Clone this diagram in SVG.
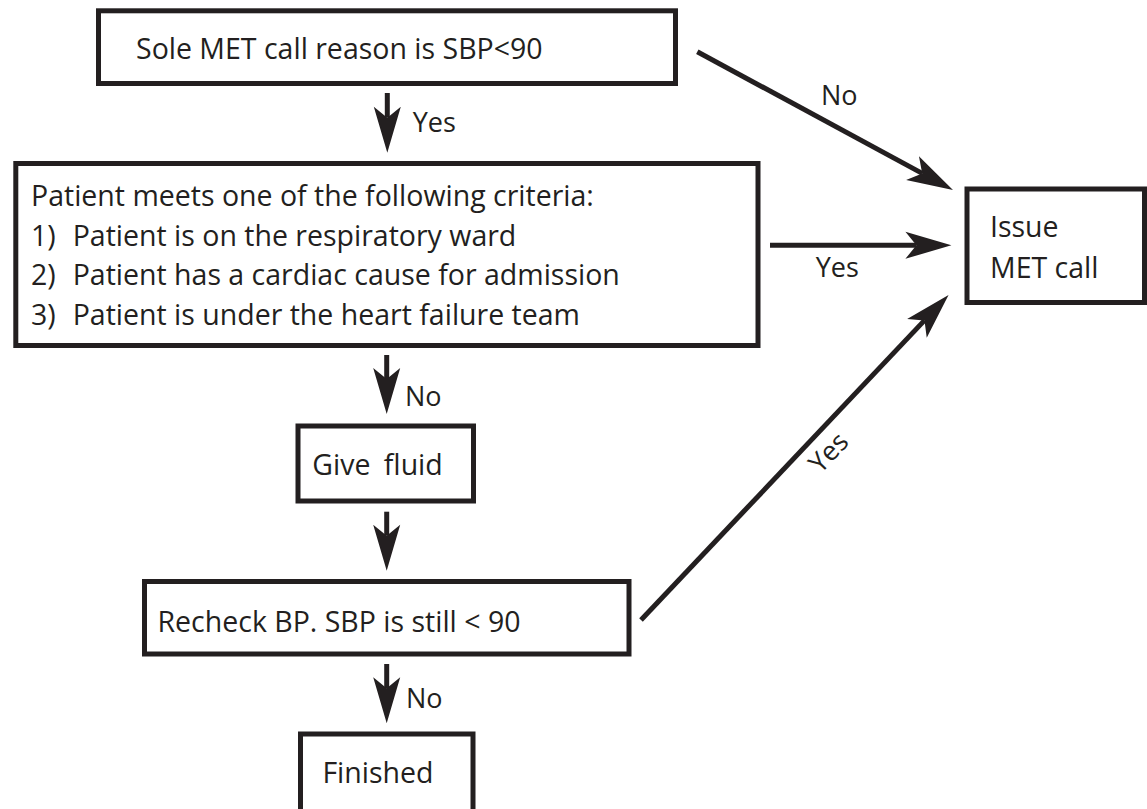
<svg xmlns="http://www.w3.org/2000/svg" width="1147" height="809" viewBox="0 0 1147 809">
<style>
  .box { fill: #ffffff; stroke: #231f20; stroke-width: 5; }
  .t { font-family: "Open Sans", "Liberation Sans", sans-serif; font-size: 28.5px; fill: #231f20; }
  .lbl { font-family: "Open Sans", "Liberation Sans", sans-serif; font-size: 27px; fill: #231f20; }
  .c { fill: none; stroke: #231f20; stroke-width: 5; marker-end: url(#ah); }
</style>
<defs>
  <marker id="ah" markerUnits="userSpaceOnUse" markerWidth="60" markerHeight="40" viewBox="-15 -20 60 40" refX="0" refY="0" orient="auto" overflow="visible">
    <path d="M35,0 L-11,-13.5 L0,0 L-11,13.5 Z" fill="#231f20"/>
  </marker>
</defs>
<rect width="1147" height="809" fill="#ffffff"/>

<g id="connectors">
  <line class="c" x1="387.3" y1="93" x2="387.3" y2="117.7"/>
  <line class="c" x1="386.7" y1="355" x2="386.7" y2="379"/>
  <line class="c" x1="386.7" y1="511.7" x2="386.7" y2="535.7"/>
  <line class="c" x1="386.7" y1="664" x2="386.7" y2="688.3"/>
  <line class="c" x1="770" y1="245.3" x2="916.4" y2="245.3"/>
  <line class="c" x1="697.3" y1="51.7" x2="922.2" y2="173.4"/>
  <line class="c" x1="641" y1="620" x2="924.5" y2="320.4"/>
  <text class="lbl" x="412.7" y="132">Yes</text>
  <text class="lbl" x="405" y="406">No</text>
  <text class="lbl" x="821" y="105">No</text>
  <text class="lbl" x="815.7" y="276.5">Yes</text>
  <text class="lbl" x="405.9" y="708.3">No</text>
  <text class="lbl" x="835.3" y="458.9" text-anchor="middle" transform="rotate(-46.5 835.3 458.9)">Yes</text>
</g>

<g id="node-sole">
  <rect class="box" x="98.5" y="10.8" width="577" height="72.7"/>
  <text class="t" x="136" y="59.3">Sole MET call reason is SBP&lt;90</text>
</g>

<g id="node-criteria">
  <rect class="box" x="15.8" y="163.5" width="742.2" height="182"/>
  <text class="t" x="31" y="206">Patient meets one of the following criteria:</text>
  <text class="t" x="31" y="245.5">1)</text>
  <text class="t" x="72.7" y="245.5">Patient is on the respiratory ward</text>
  <text class="t" x="31" y="285">2)</text>
  <text class="t" x="72.7" y="285">Patient has a cardiac cause for admission</text>
  <text class="t" x="31" y="324.5">3)</text>
  <text class="t" x="72.7" y="324.5">Patient is under the heart failure team</text>
</g>

<g id="node-issue">
  <rect class="box" x="967" y="189" width="177.5" height="113.5"/>
  <text class="t" x="990" y="237.3">Issue</text>
  <text class="t" x="990" y="277.7">MET call</text>
</g>

<g id="node-fluid">
  <rect class="box" x="298" y="426" width="175.5" height="75"/>
  <text class="t" x="312.3" y="475">Give <tspan dx="6">fluid</tspan></text>
</g>

<g id="node-recheck">
  <rect class="box" x="144.5" y="581.5" width="484.5" height="72.5"/>
  <text class="t" x="157.5" y="631.7">Recheck BP. SBP is still &lt; 90</text>
</g>

<g id="node-finished">
  <rect class="box" x="300.5" y="734" width="172.5" height="100"/>
  <text class="t" x="322.4" y="783.3">Finished</text>
</g>
</svg>
